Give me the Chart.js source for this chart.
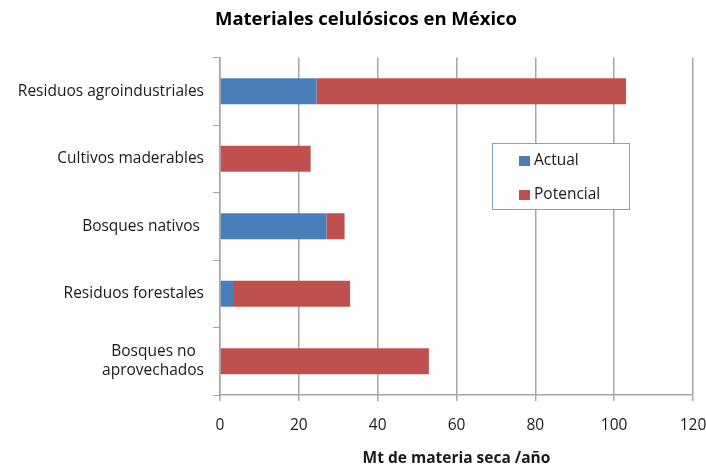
<!DOCTYPE html>
<html>
<head>
<meta charset="utf-8">
<script src="https://cdn.jsdelivr.net/npm/chart.js@4"></script>
<style>
  html, body { margin: 0; padding: 0; background: #fff; }
  #wrap { width: 706px; height: 468px; }
</style>
</head>
<body>
<div id="wrap"><canvas id="chart" width="706" height="468"></canvas></div>
<script>
// --- DATA ---
const categories = [
    'Residuos agroindustriales',
    'Cultivos maderables',
    'Bosques nativos ',
    'Residuos forestales',
    ['Bosques no  ', 'aprovechados']
];
const seriesNames = ['Actual', 'Potencial'];
const actualValues = [24.5, 0, 27, 3.3, 0];
const potencialValues = [78.5, 23, 4.6, 29.7, 53];
const xTicks = [0, 20, 40, 60, 80, 100, 120];
const chartTitle = 'Materiales celulósicos en México';

const FONT = '"Open Sans", Lato, sans-serif';
const colors = ['#4A7EBB', '#C0504D'];

// Title centred a bit right of the canvas middle, as in the original
const topTitle = {
    id: 'topTitle',
    afterDraw(chart) {
        const ctx = chart.ctx;
        ctx.save();
        ctx.font = 'bold 18.5px ' + FONT;
        ctx.fillStyle = '#000';
        ctx.textAlign = 'center';
        ctx.textBaseline = 'middle';
        ctx.fillText(chartTitle, 366, 20);
        ctx.restore();
    }
};

// Legend box drawn inside the plot area
const boxLegend = {
    id: 'boxLegend',
    afterDraw(chart) {
        const ctx = chart.ctx;
        const x0 = 492, y0 = 143, w = 137, h = 66;
        ctx.save();
        ctx.fillStyle = '#fff';
        ctx.fillRect(x0, y0, w, h);
        ctx.strokeStyle = '#7F9FD0';
        ctx.lineWidth = 1;
        ctx.strokeRect(x0 + 0.5, y0 + 0.5, w, h);
        ctx.font = '15.5px ' + FONT;
        ctx.textBaseline = 'middle';
        chart.data.datasets.forEach((ds, i) => {
            const y = y0 + 18 + i * 34;
            ctx.fillStyle = ds.backgroundColor;
            ctx.fillRect(x0 + 27, y - 5, 11, 10);
            ctx.fillStyle = '#1a1a1a';
            ctx.fillText(ds.label, x0 + 42, y);
        });
        ctx.restore();
    }
};

const config = {
    type: 'bar',
    data: {
        labels: categories,
        datasets: [
            { label: seriesNames[0], data: actualValues, backgroundColor: colors[0], barPercentage: 0.77, categoryPercentage: 0.5 },
            { label: seriesNames[1], data: potencialValues, backgroundColor: colors[1], barPercentage: 0.77, categoryPercentage: 0.5 }
        ]
    },
    options: {
        indexAxis: 'y',
        responsive: false,
        animation: false,
        layout: { padding: { left: 0, right: 13, top: 57.5, bottom: 0 } },
        scales: {
            x: {
                stacked: true,
                min: 0,
                max: 120,
                afterBuildTicks: axis => { axis.ticks = xTicks.map(v => ({ value: v })); },
                afterFit: axis => {
                    axis.paddingLeft = 0; axis.paddingRight = 0;
                    axis.paddingTop = 0; axis.paddingBottom = 0;
                    axis.height = 73;
                },
                grid: { color: '#a6a6a6', lineWidth: 1.5, tickLength: 6, drawOnChartArea: true },
                border: { color: '#a6a6a6', width: 1.5 },
                ticks: { color: '#1a1a1a', font: { family: FONT, size: 15.5 }, padding: 15, maxRotation: 0 },
                title: {
                    display: true,
                    text: 'Mt de materia seca /año',
                    color: '#1a1a1a',
                    font: { family: FONT, size: 15.5, weight: 'bold' },
                    padding: { top: 4, bottom: 0 }
                }
            },
            y: {
                stacked: true,
                afterFit: axis => {
                    axis.width = 220;
                    axis.paddingTop = 0; axis.paddingBottom = 0;
                    axis.paddingLeft = 0; axis.paddingRight = 0;
                },
                grid: { drawOnChartArea: false, color: '#a6a6a6', tickLength: 7, offset: true },
                border: { color: '#a6a6a6', width: 1.5 },
                ticks: { color: '#1a1a1a', font: { family: FONT, size: 15.5 }, padding: 9 }
            }
        },
        plugins: {
            legend: { display: false },
            tooltip: { enabled: false },
            title: { display: false }
        }
    },
    plugins: [boxLegend, topTitle]
};

new Chart(document.getElementById('chart').getContext('2d'), config);
</script>
</body>
</html>
